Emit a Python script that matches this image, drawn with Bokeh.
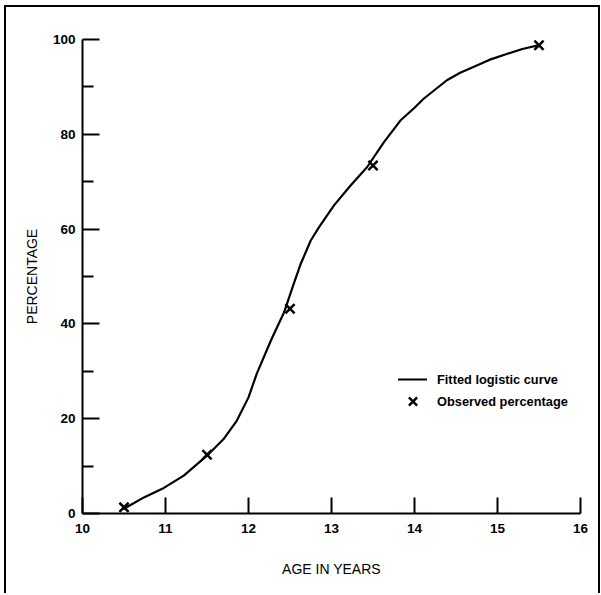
from bokeh.plotting import figure
from bokeh.models import Range1d, FixedTicker, Legend, LegendItem
from bokeh.embed import file_html
from bokeh.resources import INLINE

# ---- data ----
curve_age = [10.5, 10.74, 10.98, 11.22, 11.5, 11.7, 11.86, 12.0, 12.1, 12.27,
             12.43, 12.53, 12.63, 12.75, 12.85, 13.03, 13.23, 13.43, 13.63, 13.83,
             14.0, 14.11, 14.39, 14.55, 14.71, 14.9, 15.12, 15.3, 15.5]
curve_pct = [1.0, 3.4, 5.4, 8.0, 12.2, 15.7, 19.6, 24.5, 29.5, 36.5,
             42.5, 47.7, 52.7, 57.6, 60.4, 65.0, 69.2, 73.1, 78.3, 82.9,
             85.6, 87.5, 91.4, 93.0, 94.2, 95.7, 97.0, 98.0, 98.8]

obs_age = [10.5, 11.5, 12.5, 13.5, 15.5]
obs_pct = [1.3, 12.4, 43.2, 73.4, 98.8]

x_ticks = [10, 11, 12, 13, 14, 15, 16]
y_ticks = [0, 20, 40, 60, 80, 100]
y_minor = [10, 30, 50, 70, 90]

FONT = "Liberation Sans"

p = figure(width=596, height=588, output_backend="svg", toolbar_location=None,
           x_range=Range1d(10, 16), y_range=Range1d(0, 100),
           min_border_left=76, min_border_right=22, min_border_top=32, min_border_bottom=82)
p.styles = {"border-left": "2px solid black", "border-top": "2px solid black",
            "border-right": "2px solid black", "margin-left": "4px", "margin-top": "5px"}
p.outline_line_color = None
p.xgrid.visible = False
p.ygrid.visible = False
p.background_fill_color = "white"
p.border_fill_color = "white"

# x axis
xa = p.xaxis[0]
xa.ticker = FixedTicker(ticks=x_ticks)
xa.axis_line_width = 2
xa.axis_line_color = "black"
xa.major_tick_in = 16
xa.major_tick_out = 0
xa.major_tick_line_width = 2
xa.minor_tick_line_color = None
xa.major_label_text_font = FONT
xa.major_label_text_font_style = "bold"
xa.major_label_text_font_size = "13.5px"
xa.major_label_text_color = "black"
xa.major_label_standoff = 10
xa.axis_label = "AGE IN YEARS"
xa.axis_label_text_font = FONT
xa.axis_label_text_font_style = "normal"
xa.axis_label_text_font_size = "14px"
xa.axis_label_text_color = "black"
xa.axis_label_standoff = 25

# y axis
ya = p.yaxis[0]
ya.ticker = FixedTicker(ticks=y_ticks, minor_ticks=y_minor)
ya.axis_line_width = 2
ya.axis_line_color = "black"
ya.major_tick_in = 17
ya.major_tick_out = 0
ya.major_tick_line_width = 2
ya.minor_tick_in = 11
ya.minor_tick_out = 0
ya.minor_tick_line_width = 2
ya.minor_tick_line_color = "black"
ya.major_label_text_font = FONT
ya.major_label_text_font_style = "bold"
ya.major_label_text_font_size = "13.5px"
ya.major_label_text_color = "black"
ya.major_label_standoff = 7
ya.axis_label = "PERCENTAGE"
ya.axis_label_text_font = FONT
ya.axis_label_text_font_style = "normal"
ya.axis_label_text_font_size = "14px"
ya.axis_label_text_color = "black"
ya.axis_label_standoff = 10

curve = p.line(curve_age, curve_pct, line_color="black", line_width=2.2,
               line_join="round", line_cap="round")
obs = p.scatter(obs_age, obs_pct, marker="x", size=13, line_color="black", line_width=2.5)


def make_legend(item, loc, gh):
    lg = Legend(items=[item], location=loc)
    lg.padding = 0
    lg.margin = 0
    lg.spacing = 0
    lg.glyph_width = 29
    lg.glyph_height = gh
    lg.label_height = gh
    lg.label_standoff = 10
    lg.border_line_color = None
    lg.background_fill_alpha = 0
    lg.label_text_font = FONT
    lg.label_text_font_style = "bold"
    lg.label_text_font_size = "12.8px"
    lg.label_text_color = "black"
    return lg


p.add_layout(make_legend(LegendItem(label="Fitted logistic curve", renderers=[curve]),
                         (316, 124), 20))
p.add_layout(make_legend(LegendItem(label="Observed percentage", renderers=[obs]),
                         (316, 96), 32))

open("out.html", "w").write(file_html(p, INLINE))
